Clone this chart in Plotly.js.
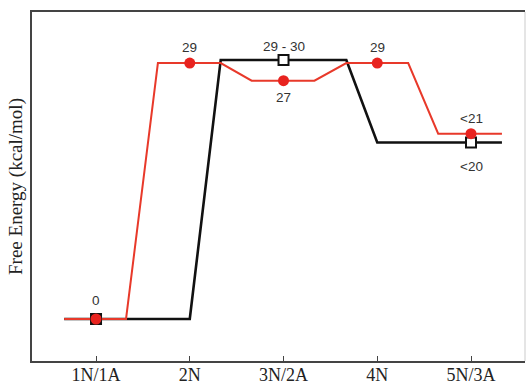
<!DOCTYPE html>
<html>
<head>
<meta charset="utf-8">
<script src="https://cdn.plot.ly/plotly-3.0.1.min.js"></script>
<style>html,body{margin:0;padding:0;background:#fff;}#chart{width:530px;height:386px;}</style>
</head>
<body>
<div id="chart"></div>
<script>
// Stage categories (x positions are the stage index)
const stages = ["1N/1A", "2N", "3N/2A", "4N", "5N/3A"];
const stageIndex = [0, 1, 2, 3, 4];

// Red pathway (energy profile path)
const redPathX = [-0.34, 0.32, 0.66, 1.33, 1.66, 2.33, 2.67, 3.33, 3.65, 4.33];
const redPathY = [0, 0, 29, 29, 27, 27, 29, 29, 21, 21];
// Red markers at each stage
const redMarkX = [0, 1, 2, 3, 4];
const redMarkY = [0, 29, 27, 29, 21];

// Black pathway
const blackPathX = [-0.34, 1.0, 1.33, 2.67, 3.0, 4.33];
const blackPathY = [0, 0, 29.35, 29.35, 20, 20];
// Black markers
const blackMarkX = [0, 2, 4];
const blackMarkY = [0, 29.35, 20];

// Value labels
const labelText = ["0", "29", "29 - 30", "27", "29", "<21", "<20"];
const labelX    = [0, 1, 2, 2, 3, 4, 4];
const labelY    = [0, 29, 29.35, 27, 29, 21, 20];
const labelShift= [18, 16, 13, -17, 16, 15, -24];

const traces = [
  {x: blackPathX, y: blackPathY, mode: "lines", line: {color: "#111", width: 2.6}, hoverinfo: "skip"},
  {x: redPathX, y: redPathY, mode: "lines", line: {color: "#e8392a", width: 2}, hoverinfo: "skip"},
  {x: blackMarkX, y: blackMarkY, mode: "markers",
   marker: {symbol: "square", size: 10, color: "#fff", line: {color: "#111", width: 2}}},
  {x: redMarkX, y: redMarkY, mode: "markers",
   marker: {symbol: "circle", size: 11, color: "#e8231f", line: {width: 0}}}
];

const annotations = labelText.map((t, i) => ({
  x: labelX[i], y: labelY[i], text: t, showarrow: false,
  yshift: labelShift[i], xanchor: "center", yanchor: "middle",
  font: {family: "Liberation Sans, Arial, sans-serif", size: 13.5, color: "#333"}
}));

const layout = {
  width: 530, height: 386,
  margin: {l: 32, r: 5, t: 12, b: 25},
  paper_bgcolor: "#fff", plot_bgcolor: "#fff",
  showlegend: false,
  xaxis: {
    range: [-0.683, 4.576], tickvals: stageIndex, ticktext: stages,
    showgrid: false, zeroline: false, showline: true, mirror: true,
    linecolor: "#444", linewidth: 2,
    ticks: "inside", ticklen: 5, tickcolor: "#444", tickwidth: 1,
    ticklabelstandoff: -4,
    tickfont: {family: "Liberation Serif, Times New Roman, serif", size: 18, color: "#222"}
  },
  yaxis: {
    range: [-4.76, 34.78], showticklabels: false, ticks: "",
    showgrid: false, zeroline: false, showline: true, mirror: false,
    linecolor: "#444", linewidth: 2,
    title: {text: "Free Energy (kcal/mol)", standoff: 2,
      font: {family: "Liberation Serif, Times New Roman, serif", size: 19, color: "#222"}}
  },
  shapes: [
    {type: "line", xref: "paper", yref: "paper", x0: 1, x1: 1, y0: 0, y1: 1,
     line: {color: "#ddd", width: 1.5}}
  ],
  annotations: annotations
};

Plotly.newPlot("chart", traces, layout, {displayModeBar: false, staticPlot: true});
</script>
</body>
</html>
